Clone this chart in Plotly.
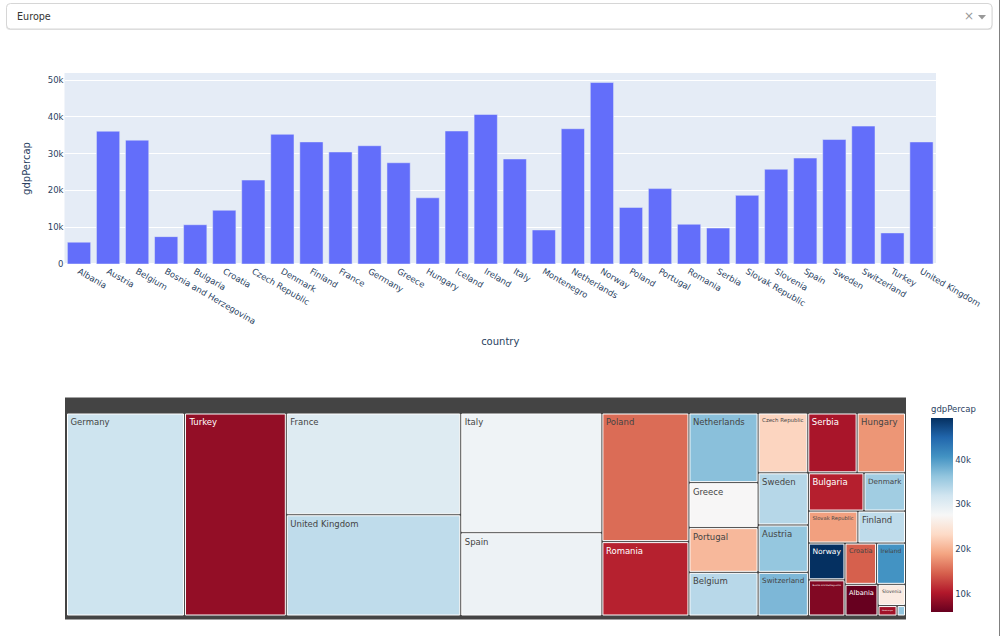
import plotly.graph_objects as go

W, H = 1000, 636

countries = ["Albania","Austria","Belgium","Bosnia and Herzegovina","Bulgaria","Croatia","Czech Republic","Denmark","Finland","France","Germany","Greece","Hungary","Iceland","Ireland","Italy","Montenegro","Netherlands","Norway","Poland","Portugal","Romania","Serbia","Slovak Republic","Slovenia","Spain","Sweden","Switzerland","Turkey","United Kingdom"]
gdp_percap = [5937.03,36126.49,33692.61,7446.30,10680.79,14619.22,22833.31,35278.42,33207.08,30470.02,32170.37,27538.41,18008.94,36180.79,40676.00,28569.72,9253.90,36797.93,49357.19,15389.92,20509.65,10808.48,9786.53,18678.31,25768.26,28821.06,33859.75,37506.42,8458.28,33203.26]
population = [3600523,8199783,10392226,4552198,7322858,4493312,10228744,5468120,5238460,61083916,82400996,10706290,9956108,301931,4109086,58147733,684736,16570613,4627926,38518241,10642836,22276056,10150265,5447502,2009245,40448191,9031088,7554661,71158647,60776238]
continent = "Europe"
rdbu = ["rgb(103,0,31)","rgb(178,24,43)","rgb(214,96,77)","rgb(244,165,130)","rgb(253,219,199)","rgb(247,247,247)","rgb(209,229,240)","rgb(146,197,222)","rgb(67,147,195)","rgb(33,102,172)","rgb(5,48,97)"]

def px_x(v): return v / W
def px_y(v): return 1 - v / H

FONT = "DejaVu Sans"

def rounded(x0, y0, x1, y1, r=4):
    X0, X1, XA, XB = px_x(x0), px_x(x1), px_x(x0 + r), px_x(x1 - r)
    Y0, Y1, YA, YB = px_y(y0), px_y(y1), px_y(y0 + r), px_y(y1 - r)
    return (f"M {XA} {Y0} L {XB} {Y0} Q {X1} {Y0} {X1} {YA} L {X1} {YB} Q {X1} {Y1} {XB} {Y1} "
            f"L {XA} {Y1} Q {X0} {Y1} {X0} {YB} L {X0} {YA} Q {X0} {Y0} {XA} {Y0} Z")

fig = go.Figure()
fig.add_trace(go.Bar(x=countries, y=gdp_percap, marker_color="#636efa", hovertemplate="country=%{x}<br>gdpPercap=%{y}<extra></extra>"))
fig.add_trace(go.Treemap(
    ids=countries + [continent], labels=countries + [" "], parents=[continent] * len(countries) + [""],
    values=population + [sum(population)], branchvalues="total",
    textfont=dict(size=8.5),
    tiling=dict(pad=2),
    marker=dict(colors=gdp_percap + [None], coloraxis="coloraxis", pad=dict(t=17, l=3, r=2, b=5)),
    domain=dict(x=[px_x(64.5), px_x(906.5)], y=[px_y(620), px_y(397)]),
    pathbar=dict(visible=False),
))
fig.update_layout(
    width=W, height=H, autosize=False, template="plotly",
    font=dict(family=FONT, size=8.5),
    margin=dict(l=0, r=0, t=0, b=0), showlegend=False,
    xaxis=dict(domain=[px_x(64.5), px_x(936)], tickangle=30, title=dict(text="country", font=dict(size=10), standoff=12), anchor="y", automargin=False),
    yaxis=dict(domain=[px_y(264), px_y(73)], title=dict(text="gdpPercap", font=dict(size=10)), anchor="x", automargin=False),
    coloraxis=dict(colorscale=rdbu, cmin=min(gdp_percap), cmax=max(gdp_percap),
        colorbar=dict(title=dict(text="gdpPercap", font=dict(size=8.5)), x=px_x(931), xanchor="left", y=px_y(612), yanchor="bottom",
                      lenmode="pixels", len=209, thickness=22, thicknessmode="pixels", xpad=0, ypad=0)),
    shapes=[
        dict(type="path", xref="paper", yref="paper", line=dict(width=0), fillcolor="#e4e4e4", path=rounded(6, 4, 992.5, 30)),
        dict(type="path", xref="paper", yref="paper", line=dict(color="#d6d6d6", width=1), fillcolor="white", path=rounded(6.5, 3.5, 992, 29)),
        dict(type="path", xref="paper", yref="paper", line=dict(width=0), fillcolor="#999999",
             path=f"M {px_x(978)} {px_y(15)} L {px_x(986)} {px_y(15)} L {px_x(982)} {px_y(19.5)} Z"),
        dict(type="rect", xref="paper", yref="paper", line=dict(width=0), fillcolor="#808080",
             x0=px_x(999), x1=px_x(1000), y0=0, y1=1),
    ],
    annotations=[
        dict(text=continent, xref="paper", yref="paper", x=px_x(15), y=px_y(16.5), xanchor="left", yanchor="middle",
             showarrow=False, font=dict(size=9.6, color="#333333")),
        dict(text="×", xref="paper", yref="paper", x=px_x(968.5), y=px_y(16), xanchor="center", yanchor="middle",
             showarrow=False, font=dict(size=12, color="#999999")),
    ],
)
fig.write_html("out.html", config=dict(displayModeBar=False),
               post_script="document.body.style.margin='0';document.documentElement.style.overflow='hidden';")
